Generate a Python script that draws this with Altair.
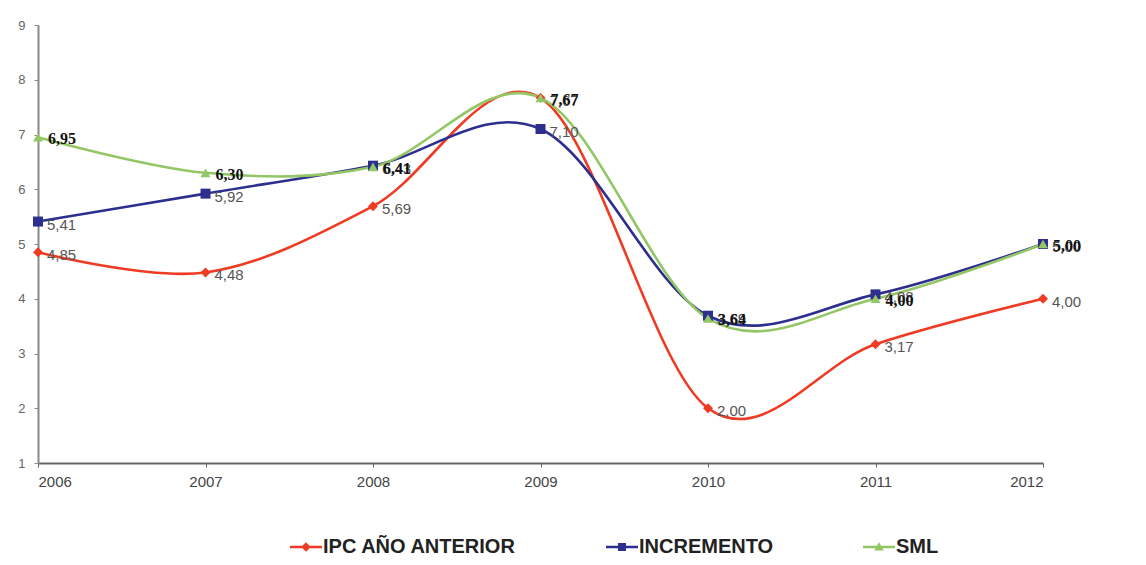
import altair as alt
import pandas as pd

years = [2006, 2007, 2008, 2009, 2010, 2011, 2012]
series_names = ["IPC AÑO ANTERIOR", "INCREMENTO", "SML"]
ipc = [4.85, 4.48, 5.69, 7.67, 2.00, 3.17, 4.00]
incremento = [5.41, 5.92, 6.43, 7.10, 3.69, 4.08, 5.00]
sml = [6.95, 6.30, 6.41, 7.67, 3.64, 4.00, 5.00]
y_ticks = [1, 2, 3, 4, 5, 6, 7, 8, 9]

colors = ["#f03b24", "#2c2f8e", "#93c665"]
marker_shapes = ["diamond", "square", "triangle-up"]

_line = "M-1,-0.08L1,-0.08L1,0.08L-1,0.08Z"
legend_shapes = [
    _line + "M-0.3,0L0,-0.3L0.3,0L0,0.3Z",
    _line + "M-0.25,-0.25L0.25,-0.25L0.25,0.25L-0.25,0.25Z",
    _line + "M0,-0.3L0.3,0.22L-0.3,0.22Z",
]

rows = []
for name, vals in zip(series_names, [ipc, incremento, sml]):
    for yr, v in zip(years, vals):
        rows.append({"series": name, "key": name, "year": yr, "value": v})
df = pd.DataFrame(rows)

x_enc = alt.X(
    "year:Q",
    scale=alt.Scale(domain=[2006, 2012], nice=False, zero=False),
    axis=alt.Axis(
        values=years, format="d", title=None, grid=False,
        labelFont="Liberation Sans", labelFontSize=15, labelColor="#444",
        domainColor="#666", domainWidth=2, tickColor="#666", tickSize=4,
        labelPadding=7,
    ),
)
y_enc = alt.Y(
    "value:Q",
    scale=alt.Scale(domain=[1, 9], nice=False, zero=False),
    axis=alt.Axis(
        values=y_ticks, title=None, grid=False,
        labelFont="Liberation Sans", labelFontSize=13, labelColor="#666",
        domainColor="#888", domainWidth=2, tickColor="#888", tickSize=4,
        labelPadding=9,
    ),
)
color_scale = alt.Scale(domain=series_names, range=colors)

base = alt.Chart(df)

lines = base.mark_line(interpolate="cardinal", strokeWidth=2.6).encode(
    x=x_enc, y=y_enc,
    color=alt.Color("series:N", scale=color_scale, legend=None),
)

points = base.mark_point(filled=True, opacity=1, size=100).encode(
    x="year:Q", y="value:Q",
    color=alt.Color("series:N", scale=color_scale, legend=None),
    shape=alt.Shape("series:N", scale=alt.Scale(domain=series_names, range=marker_shapes), legend=None),
)

fmt = "replace(format(datum.value, '.2f'), '.', ',')"

labels_sans = base.transform_filter("datum.series != 'SML'").transform_calculate(
    lbl=fmt
).mark_text(
    align="left", baseline="middle", dx=9, dy=3,
    font="Liberation Sans", fontSize=15, color="#555",
).encode(x="year:Q", y="value:Q", text="lbl:N")

labels_serif = base.transform_filter("datum.series == 'SML'").transform_calculate(
    lbl=fmt
).mark_text(
    align="left", baseline="middle", dx=10, dy=2,
    font="Liberation Serif", fontSize=16, fontWeight="bold", color="#111",
).encode(x="year:Q", y="value:Q", text="lbl:N")

legend_layer = base.transform_filter("datum.year < 0").mark_point(filled=True, opacity=1).encode(
    x="year:Q", y="value:Q",
    color=alt.Color(
        "key:N", scale=color_scale,
        legend=alt.Legend(
            title=None, orient="none", direction="horizontal",
            legendX=252, legendY=506, padding=0,
            symbolSize=1024, symbolStrokeWidth=0, symbolOpacity=1,
            labelFont="Liberation Sans", labelFontSize=20, labelFontWeight="bold",
            labelColor="#222", labelOffset=1, columnPadding=89, labelLimit=400,
        ),
    ),
    shape=alt.Shape("key:N", scale=alt.Scale(domain=series_names, range=legend_shapes)),
)

chart = alt.layer(lines, points, labels_sans, labels_serif, legend_layer).resolve_scale(
    color="independent", shape="independent"
).resolve_legend(color="independent", shape="independent").properties(
    width=1005, height=438,
    autosize=alt.AutoSizeParams(type="none"),
    padding={"left": 30, "top": 17, "right": 95, "bottom": 94},
    background="white",
).configure_view(stroke=None)

chart.save("out.html", embed_options={"renderer": "svg", "actions": False})
